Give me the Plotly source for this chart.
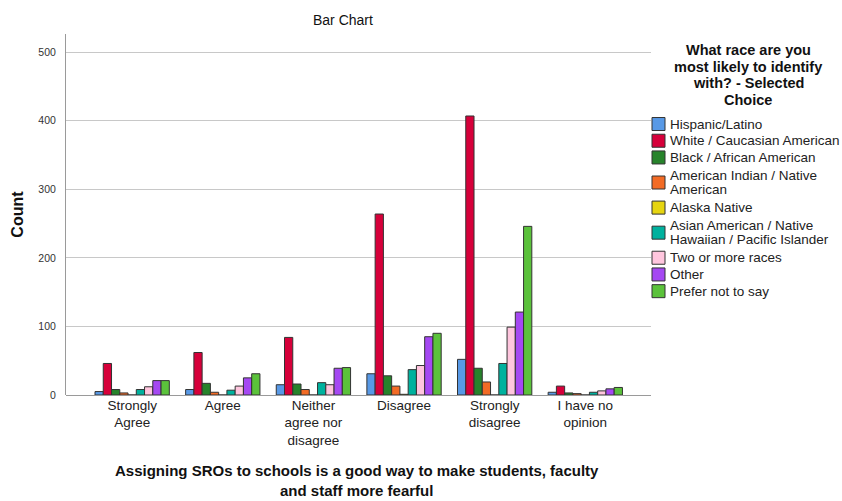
import plotly.graph_objects as go

categories = ["Strongly<br>Agree", "Agree", "Neither<br>agree nor<br>disagree", "Disagree",
              "Strongly<br>disagree", "I have no<br>opinion"]

series_names = ["Hispanic/Latino", "White / Caucasian American", "Black / African American",
                "American Indian / Native<br>American", "Alaska Native",
                "Asian American / Native<br>Hawaiian / Pacific Islander", "Two or more races",
                "Other", "Prefer not to say"]

hispanic = [5, 8, 15, 31, 52, 4]
white = [46, 62, 84, 264, 407, 13]
black = [8, 17, 16, 28, 39, 3]
am_indian = [3, 4, 8, 13, 19, 2]
alaska = [0, 0, 0, 1, 0, 0]
asian = [8, 7, 18, 37, 46, 4]
two_more = [12, 13, 15, 43, 99, 6]
other = [21, 25, 39, 85, 121, 9]
prefer_not = [21, 31, 40, 90, 246, 11]

series_values = [hispanic, white, black, am_indian, alaska, asian, two_more, other, prefer_not]
colors = ["#5899e6", "#d6003a", "#27832b", "#f26b25", "#e6d511", "#00b19e",
          "#ffc6de", "#a548f2", "#5bc23b"]

legend_title_lines = ["What race are you", "most likely to identify", "with? - Selected", "Choice"]
x_title = "Assigning SROs to schools is a good way to make students, faculty<br>and staff more fearful"

W, H = 842, 501
L, R, T, B = 66, 191, 34, 106.3
PW, PH = W - L - R, H - T - B


def px(x):
    return (x - L) / PW


def py(y):
    return (H - B - y) / PH


fig = go.Figure()
for name, vals, col in zip(series_names, series_values, colors):
    fig.add_trace(go.Bar(
        x=categories, y=vals, name=name, showlegend=False,
        marker=dict(color=col, line=dict(color="#333333", width=1)),
    ))

annotations = []
shapes = []

# Legend title
for i, line in enumerate(legend_title_lines):
    annotations.append(dict(text=f"<b>{line}</b>", xref="paper", yref="paper",
                            x=px(748), y=py(50 + i * 16.7), xanchor="center", yanchor="middle",
                            showarrow=False, font=dict(size=14.5, color="#111111")))

# Legend items
cursor = 115.6
row_h = 16.7
for name, col in zip(series_names, colors):
    lines = name.split("<br>")
    h = row_h * len(lines)
    cy = cursor + h / 2
    shapes.append(dict(type="rect", xref="paper", yref="paper",
                       x0=px(652), x1=px(665), y0=py(cy - 6.5), y1=py(cy + 6.5),
                       fillcolor=col, line=dict(color="#333333", width=1)))
    n = len(lines)
    for j, line in enumerate(lines):
        ly = cy + (j - (n - 1) / 2) * 14
        annotations.append(dict(text=line, xref="paper", yref="paper",
                                x=px(668), y=py(ly), xanchor="left", yanchor="middle",
                                showarrow=False, font=dict(size=13.5, color="#222222")))
    cursor += h

# Axis titles
annotations.append(dict(text="<b>Count</b>", xref="paper", yref="paper", x=px(17.5), y=py(214),
                        xanchor="center", yanchor="middle", textangle=-90, showarrow=False,
                        font=dict(size=16, color="#111111")))
annotations.append(dict(text=f"<b>{x_title}</b>", xref="paper", yref="paper",
                        x=px(357), y=py(480.5), xanchor="center", yanchor="middle",
                        showarrow=False, align="center", font=dict(size=15, color="#111111")))

# Chart title
annotations.append(dict(text="Bar Chart", xref="paper", yref="paper", x=px(343), y=py(20),
                        xanchor="center", yanchor="middle", showarrow=False,
                        font=dict(size=14, color="#111111")))

fig.update_layout(
    width=W, height=H,
    barmode="group", bargap=0.18, bargroupgap=0,
    plot_bgcolor="white", paper_bgcolor="white",
    font=dict(family="Liberation Sans, Arial, sans-serif", color="#111111"),
    margin=dict(l=L, r=R, t=T, b=B, autoexpand=False),
    showlegend=False,
    xaxis=dict(range=[-0.73, 5.725], showgrid=False, showline=False, ticks="",
               automargin=False, tickfont=dict(size=13.5, color="#222222")),
    yaxis=dict(range=[0, 526.6], tickvals=[0, 100, 200, 300, 400, 500],
               showgrid=True, gridcolor="#c8c8c8", gridwidth=1,
               showline=True, linecolor="#9a9a9a", linewidth=1,
               zeroline=True, zerolinecolor="#9a9a9a", zerolinewidth=1,
               ticks="", ticklabelstandoff=7, automargin=False,
               tickfont=dict(size=10.5, color="#333333")),
    annotations=annotations,
    shapes=shapes,
)

fig.write_html("out.html", config={"displayModeBar": False},
               post_script="document.body.style.margin='0';document.body.style.padding='0';")
